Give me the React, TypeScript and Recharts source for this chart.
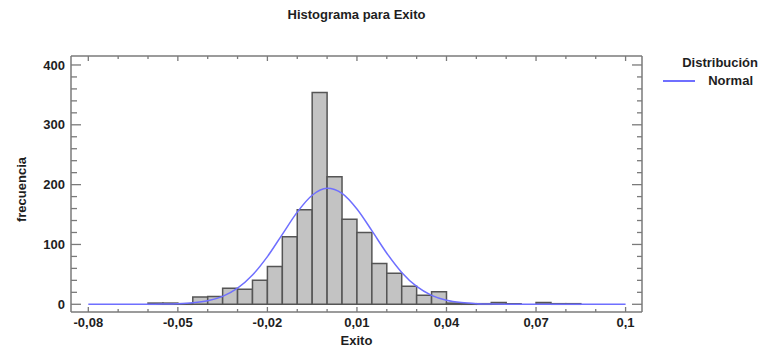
import {
  ComposedChart,
  Line,
  XAxis,
  YAxis,
  ReferenceArea,
  Legend,
} from "recharts";

// histogram bins (lower edge, width 0.005) and counts
const binWidth = 0.005;
const binStart = [
  -0.06, -0.055, -0.05, -0.045, -0.04, -0.035, -0.03, -0.025, -0.02, -0.015,
  -0.01, -0.005, 0, 0.005, 0.01, 0.015, 0.02, 0.025, 0.03, 0.035, 0.04, 0.045,
  0.05, 0.055, 0.06, 0.065, 0.07, 0.075, 0.08,
];
const counts = [
  2, 2, 1, 12, 13, 27, 25, 40, 63, 113, 158, 354, 213, 142, 120, 68, 52, 30, 15,
  21, 2, 1, 1, 3, 1, 0, 3, 1, 1,
];

// fitted normal curve
const curveX = [
  -0.08, -0.075, -0.07, -0.065, -0.06, -0.055, -0.05, -0.045, -0.04, -0.035,
  -0.03, -0.025, -0.02, -0.015, -0.01, -0.005, 0, 0.005, 0.01, 0.015, 0.02,
  0.025, 0.03, 0.035, 0.04, 0.045, 0.05, 0.055, 0.06, 0.065, 0.07, 0.075, 0.08,
  0.085, 0.09, 0.095, 0.1,
];
const curveY = [
  0, 0, 0, 0, 0.1, 0.3, 0.9, 2.4, 5.9, 13.3, 26.9, 48.9, 79.7, 116.9, 154,
  182.3, 193.9, 185.4, 159.3, 123, 85.4, 53.3, 29.8, 15, 6.8, 2.8, 1, 0.3, 0.1,
  0, 0, 0, 0, 0, 0, 0, 0,
];

const xTicks = [
  -0.08, -0.07, -0.06, -0.05, -0.04, -0.03, -0.02, -0.01, 0, 0.01, 0.02, 0.03,
  0.04, 0.05, 0.06, 0.07, 0.08, 0.09, 0.1,
];
const xLabels = [-0.08, -0.05, -0.02, 0.01, 0.04, 0.07, 0.1];
const yTicks = [
  0, 20, 40, 60, 80, 100, 120, 140, 160, 180, 200, 220, 240, 260, 280, 300, 320,
  340, 360, 380, 400,
];
const yLabels = [0, 100, 200, 300, 400];

const FONT = "'Liberation Sans', Arial, sans-serif";
const FRAME = "#7a7a7a";
const TEXT = "#1e1e1e";
const CURVE = "#6f6fff";

const data = curveX.map((x, i) => ({ x, fit: curveY[i] }));

const fmt = (v: number) => String(v).replace(".", ",");

const BottomTick = (props: any) => {
  const { x, y, payload } = props;
  const major = xLabels.includes(payload.value);
  return (
    <g>
      <line x1={x} x2={x} y1={y - 6} y2={y - 6 - (major ? 5 : 3)} stroke={FRAME} strokeWidth={1.3} />
      {major && (
        <text x={x} y={y} dy="0.71em" textAnchor="middle" fontSize={13} fontWeight="bold" fontFamily={FONT} fill={TEXT}>
          {fmt(payload.value)}
        </text>
      )}
    </g>
  );
};

const TopTick = (props: any) => {
  const { x, y, payload } = props;
  const major = xLabels.includes(payload.value);
  return <line x1={x} x2={x} y1={y} y2={y + (major ? 5 : 3)} stroke={FRAME} strokeWidth={1.3} />;
};

const LeftTick = (props: any) => {
  const { x, y, payload } = props;
  const major = yLabels.includes(payload.value);
  return (
    <g>
      <line x1={x + 6} x2={x + 6 + (major ? 10 : 6)} y1={y} y2={y} stroke={FRAME} strokeWidth={1.3} />
      {major && (
        <text x={x} y={y} dy="0.36em" textAnchor="end" fontSize={13} fontWeight="bold" fontFamily={FONT} fill={TEXT}>
          {payload.value}
        </text>
      )}
    </g>
  );
};

const RightTick = (props: any) => {
  const { x, y, payload } = props;
  const major = yLabels.includes(payload.value);
  return <line x1={x} x2={x - (major ? 10 : 5)} y1={y} y2={y} stroke={FRAME} strokeWidth={1.3} />;
};

const LegendBox = (props: any) => {
  const item = props.payload && props.payload[0];
  return (
    <div style={{ fontFamily: FONT, fontSize: 13, fontWeight: "bold", color: TEXT, lineHeight: "18px", textAlign: "right" }}>
      <div>Distribución</div>
      <div style={{ display: "flex", justifyContent: "flex-end", alignItems: "center", paddingRight: 5 }}>
        <span style={{ display: "inline-block", width: 32, height: 0, borderTop: `2px solid ${item ? item.color : CURVE}`, marginRight: 13 }} />
        <span>{item ? item.value : "Normal"}</span>
      </div>
    </div>
  );
};

export default function App() {
  return (
    <div style={{ position: "relative", width: 766, height: 352, background: "#fff" }}>
      <style>{`body{margin:0;}`}</style>
      <div
        style={{
          position: "absolute", left: 71, top: 7, width: 571, textAlign: "center",
          fontFamily: FONT, fontSize: 13, fontWeight: "bold", lineHeight: "15px", color: TEXT,
        }}
      >
        Histograma para Exito
      </div>
      <ComposedChart width={766} height={352} data={data} margin={{ top: 46, right: 114, bottom: 20, left: 31 }}>
        <XAxis
          xAxisId="bottom"
          dataKey="x"
          type="number"
          domain={[-0.0858, 0.1055]}
          allowDataOverflow
          ticks={xTicks}
          interval={0}
          height={20}
          tickSize={0}
          tickMargin={6}
          tickLine={false}
          tick={<BottomTick />}
          axisLine={{ stroke: FRAME, strokeWidth: 1.5 }}
        />
        <XAxis
          xAxisId="top"
          orientation="top"
          dataKey="x"
          type="number"
          domain={[-0.0858, 0.1055]}
          allowDataOverflow
          ticks={xTicks}
          interval={0}
          height={10}
          tickSize={0}
          tickMargin={0}
          tickLine={false}
          tick={<TopTick />}
          axisLine={{ stroke: FRAME, strokeWidth: 1.5 }}
        />
        <YAxis
          yAxisId="left"
          type="number"
          domain={[-12.9, 415]}
          allowDataOverflow
          ticks={yTicks}
          interval={0}
          width={40}
          tickSize={0}
          tickMargin={6}
          tickLine={false}
          tick={<LeftTick />}
          axisLine={{ stroke: FRAME, strokeWidth: 1.5 }}
        />
        <YAxis
          yAxisId="right"
          orientation="right"
          type="number"
          domain={[-12.9, 415]}
          allowDataOverflow
          ticks={yTicks}
          interval={0}
          width={10}
          tickSize={0}
          tickMargin={0}
          tickLine={false}
          tick={<RightTick />}
          axisLine={{ stroke: FRAME, strokeWidth: 1.5 }}
        />
        {binStart.map((lo, i) =>
          counts[i] > 0 ? (
            <ReferenceArea
              key={lo}
              xAxisId="bottom"
              yAxisId="left"
              x1={lo}
              x2={lo + binWidth}
              y1={0}
              y2={counts[i]}
              fill="#c3c3c3"
              fillOpacity={1}
              stroke="#555555"
              strokeWidth={1.5}
              strokeOpacity={1}
              ifOverflow="visible"
            />
          ) : null
        )}
        <Line
          xAxisId="bottom"
          yAxisId="left"
          type="monotone"
          dataKey="fit"
          name="Normal"
          stroke={CURVE}
          strokeWidth={1.5}
          dot={false}
          activeDot={false}
          isAnimationActive={false}
        />
        <Legend
          layout="vertical"
          align="center"
          verticalAlign="middle"
          wrapperStyle={{ left: 655, top: 54, width: 103 }}
          content={<LegendBox />}
        />
      </ComposedChart>
      <div
        style={{
          position: "absolute", left: 71, top: 333, width: 571, textAlign: "center",
          fontFamily: FONT, fontSize: 13, fontWeight: "bold", lineHeight: "15px", color: TEXT,
        }}
      >
        Exito
      </div>
      <div
        style={{
          position: "absolute", left: -29.5, top: 181.5, width: 100, height: 15, textAlign: "center",
          transform: "rotate(-90deg)", fontFamily: FONT, fontSize: 13, fontWeight: "bold",
          lineHeight: "15px", color: TEXT,
        }}
      >
        frecuencia
      </div>
    </div>
  );
}
